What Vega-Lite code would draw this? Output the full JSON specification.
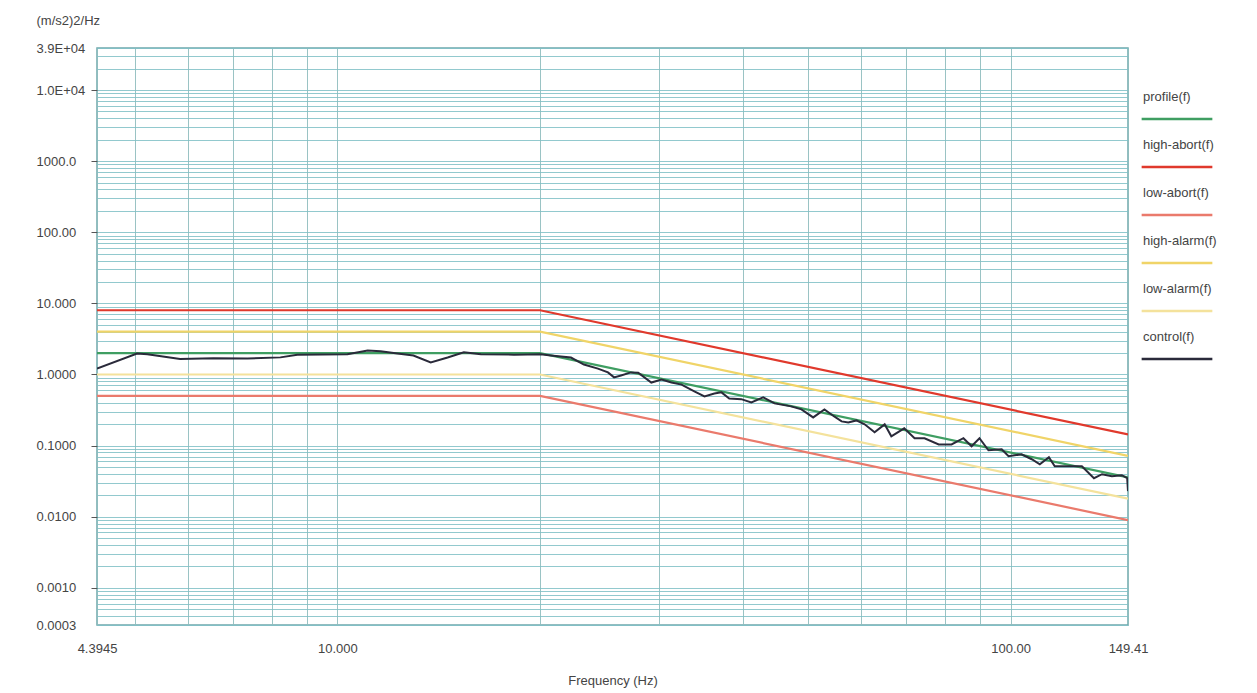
{
  "$schema": "https://vega.github.io/schema/vega-lite/v6.json",
  "width": 1031,
  "height": 577,
  "autosize": {"type": "none"},
  "padding": {"left": 97, "top": 48, "right": 129, "bottom": 68},
  "background": "#ffffff",
  "config": {
    "view": {"stroke": "#6fa8ac", "strokeWidth": 1.5},
    "font": "Liberation Sans"
  },
  "datasets": {
    "rows": [
      {"series": "profile(f)", "f": 4.3945, "v": 2},
      {"series": "profile(f)", "f": 20, "v": 2},
      {"series": "profile(f)", "f": 149.41, "v": 0.0358},
      {"series": "high-abort(f)", "f": 4.3945, "v": 8},
      {"series": "high-abort(f)", "f": 20, "v": 8},
      {"series": "high-abort(f)", "f": 149.41, "v": 0.1433},
      {"series": "low-abort(f)", "f": 4.3945, "v": 0.5},
      {"series": "low-abort(f)", "f": 20, "v": 0.5},
      {"series": "low-abort(f)", "f": 149.41, "v": 0.00896},
      {"series": "high-alarm(f)", "f": 4.3945, "v": 4},
      {"series": "high-alarm(f)", "f": 20, "v": 4},
      {"series": "high-alarm(f)", "f": 149.41, "v": 0.0717},
      {"series": "low-alarm(f)", "f": 4.3945, "v": 1},
      {"series": "low-alarm(f)", "f": 20, "v": 1},
      {"series": "low-alarm(f)", "f": 149.41, "v": 0.0179},
      {"series": "control(f)", "f": 4.3945, "v": 1.21},
      {"series": "control(f)", "f": 5.04, "v": 1.97},
      {"series": "control(f)", "f": 5.22, "v": 1.93},
      {"series": "control(f)", "f": 5.84, "v": 1.65},
      {"series": "control(f)", "f": 6.54, "v": 1.69},
      {"series": "control(f)", "f": 7.35, "v": 1.68},
      {"series": "control(f)", "f": 8.23, "v": 1.74},
      {"series": "control(f)", "f": 8.72, "v": 1.9},
      {"series": "control(f)", "f": 10.35, "v": 1.92},
      {"series": "control(f)", "f": 11.09, "v": 2.18},
      {"series": "control(f)", "f": 11.59, "v": 2.12},
      {"series": "control(f)", "f": 12.28, "v": 1.97},
      {"series": "control(f)", "f": 12.97, "v": 1.85},
      {"series": "control(f)", "f": 13.76, "v": 1.48},
      {"series": "control(f)", "f": 14.58, "v": 1.73},
      {"series": "control(f)", "f": 15.41, "v": 2.05},
      {"series": "control(f)", "f": 16.34, "v": 1.92},
      {"series": "control(f)", "f": 18.29, "v": 1.9},
      {"series": "control(f)", "f": 20.05, "v": 1.92},
      {"series": "control(f)", "f": 20.75, "v": 1.85},
      {"series": "control(f)", "f": 22.23, "v": 1.73},
      {"series": "control(f)", "f": 23.24, "v": 1.38},
      {"series": "control(f)", "f": 24.38, "v": 1.21},
      {"series": "control(f)", "f": 25.23, "v": 1.07},
      {"series": "control(f)", "f": 25.76, "v": 0.91},
      {"series": "control(f)", "f": 26.38, "v": 0.97},
      {"series": "control(f)", "f": 27.3, "v": 1.07},
      {"series": "control(f)", "f": 27.98, "v": 1.06},
      {"series": "control(f)", "f": 29.26, "v": 0.77},
      {"series": "control(f)", "f": 30.3, "v": 0.85},
      {"series": "control(f)", "f": 31.35, "v": 0.77},
      {"series": "control(f)", "f": 32.45, "v": 0.72},
      {"series": "control(f)", "f": 33.9, "v": 0.58},
      {"series": "control(f)", "f": 35.1, "v": 0.49},
      {"series": "control(f)", "f": 36.3, "v": 0.54},
      {"series": "control(f)", "f": 37.2, "v": 0.56},
      {"series": "control(f)", "f": 38.2, "v": 0.46},
      {"series": "control(f)", "f": 39.8, "v": 0.45},
      {"series": "control(f)", "f": 41.2, "v": 0.405},
      {"series": "control(f)", "f": 42.9, "v": 0.476},
      {"series": "control(f)", "f": 44.6, "v": 0.392},
      {"series": "control(f)", "f": 47.2, "v": 0.356},
      {"series": "control(f)", "f": 48.9, "v": 0.323},
      {"series": "control(f)", "f": 50.9, "v": 0.249},
      {"series": "control(f)", "f": 52.9, "v": 0.323},
      {"series": "control(f)", "f": 54.7, "v": 0.257},
      {"series": "control(f)", "f": 56.1, "v": 0.219},
      {"series": "control(f)", "f": 57.4, "v": 0.212},
      {"series": "control(f)", "f": 59.0, "v": 0.226},
      {"series": "control(f)", "f": 60.7, "v": 0.199},
      {"series": "control(f)", "f": 62.8, "v": 0.154},
      {"series": "control(f)", "f": 65.0, "v": 0.199},
      {"series": "control(f)", "f": 66.5, "v": 0.135},
      {"series": "control(f)", "f": 69.5, "v": 0.175},
      {"series": "control(f)", "f": 72.0, "v": 0.127},
      {"series": "control(f)", "f": 74.5, "v": 0.127},
      {"series": "control(f)", "f": 78.2, "v": 0.104},
      {"series": "control(f)", "f": 81.7, "v": 0.104},
      {"series": "control(f)", "f": 85.1, "v": 0.127},
      {"series": "control(f)", "f": 87.5, "v": 0.0977},
      {"series": "control(f)", "f": 89.9, "v": 0.127},
      {"series": "control(f)", "f": 92.7, "v": 0.0859},
      {"series": "control(f)", "f": 97.0, "v": 0.0888},
      {"series": "control(f)", "f": 99.3, "v": 0.0708},
      {"series": "control(f)", "f": 103.8, "v": 0.0755},
      {"series": "control(f)", "f": 107.5, "v": 0.0643},
      {"series": "control(f)", "f": 110.5, "v": 0.0547},
      {"series": "control(f)", "f": 114.0, "v": 0.0686},
      {"series": "control(f)", "f": 116.3, "v": 0.0513},
      {"series": "control(f)", "f": 122.0, "v": 0.0513},
      {"series": "control(f)", "f": 127.6, "v": 0.0513},
      {"series": "control(f)", "f": 133.0, "v": 0.0348},
      {"series": "control(f)", "f": 136.7, "v": 0.0396},
      {"series": "control(f)", "f": 141.4, "v": 0.0371},
      {"series": "control(f)", "f": 146.3, "v": 0.0383},
      {"series": "control(f)", "f": 149.0, "v": 0.0348},
      {"series": "control(f)", "f": 149.41, "v": 0.0229}
    ]
  },
  "data": {"name": "rows"},
  "encoding": {
    "x": {
      "field": "f", "type": "quantitative",
      "scale": {"type": "log", "domain": [4.3945, 149.41], "nice": false, "zero": false},
      "axis": {
        "title": "Frequency (Hz)",
        "values": [4.3945, 5, 6, 7, 8, 9, 10, 20, 30, 40, 50, 60, 70, 80, 90, 100, 149.41],
        "labelExpr": "datum.value == 4.3945 ? '4.3945' : datum.value == 10 ? '10.000' : datum.value == 100 ? '100.00' : datum.value == 149.41 ? '149.41' : ''",
        "labelOverlap": false,
        "labelBound": false,
        "labelFlush": false,
        "ticks": false,
        "domain": false,
        "labelPadding": 17,
        "labelFontSize": 13,
        "labelColor": "#444444",
        "labelFont": "Liberation Sans",
        "titleFont": "Liberation Sans",
        "titleFontSize": 13,
        "titleFontWeight": "normal",
        "titleColor": "#444444",
        "titlePadding": 19,
        "gridColor": "#8fbcbe",
        "gridWidth": 1,
        "gridOpacity": 0.9
      }
    },
    "y": {
      "field": "v", "type": "quantitative",
      "scale": {"type": "log", "domain": [0.0003, 39000], "nice": false, "zero": false},
      "axis": {
        "title": "(m/s2)2/Hz",
        "titleAngle": 0,
        "titleAlign": "left",
        "titleBaseline": "middle",
        "titleX": -61,
        "titleY": -28,
        "titleFont": "Liberation Sans",
        "titleFontSize": 13,
        "titleFontWeight": "normal",
        "titleColor": "#444444",
        "values": [0.0003, 0.0004, 0.0005, 0.0006, 0.0007, 0.0008, 0.0009,
                   0.001, 0.002, 0.003, 0.004, 0.005, 0.006, 0.007, 0.008, 0.009,
                   0.01, 0.02, 0.03, 0.04, 0.05, 0.06, 0.07, 0.08, 0.09,
                   0.1, 0.2, 0.3, 0.4, 0.5, 0.6, 0.7, 0.8, 0.9,
                   1, 2, 3, 4, 5, 6, 7, 8, 9,
                   10, 20, 30, 40, 50, 60, 70, 80, 90,
                   100, 200, 300, 400, 500, 600, 700, 800, 900,
                   1000, 2000, 3000, 4000, 5000, 6000, 7000, 8000, 9000,
                   10000, 20000, 30000, 39000],
        "labelExpr": "datum.value == 39000 ? '3.9E+04' : datum.value == 10000 ? '1.0E+04' : datum.value == 1000 ? '1000.0' : datum.value == 100 ? '100.00' : datum.value == 10 ? '10.000' : datum.value == 1 ? '1.0000' : datum.value == 0.1 ? '0.1000' : datum.value == 0.01 ? '0.0100' : datum.value == 0.001 ? '0.0010' : datum.value == 0.0003 ? '0.0003' : ''",
        "labelOverlap": false,
        "labelBound": false,
        "labelFlush": false,
        "labelAlign": "left",
        "labelPadding": 55,
        "labelFontSize": 13,
        "labelColor": "#444444",
        "labelFont": "Liberation Sans",
        "tickSize": 6,
        "tickColor": "#555555",
        "tickOpacity": {"condition": {"test": "indexof([0.001, 0.01, 0.1, 1, 10, 100, 1000, 10000], datum.value) >= 0", "value": 1}, "value": 0},
        "domain": false,
        "gridColor": "#7fc0c6",
        "gridWidth": 1,
        "gridOpacity": 0.85
      }
    },
    "color": {
      "field": "series", "type": "nominal",
      "scale": {
        "domain": ["profile(f)", "high-abort(f)", "low-abort(f)", "high-alarm(f)", "low-alarm(f)", "control(f)"],
        "range": ["#3f9e62", "#e0392c", "#ea7a6c", "#f0d468", "#f4e29c", "#2a2a3a"]
      },
      "legend": {
        "orient": "none",
        "legendX": 1043,
        "legendY": 34,
        "title": null,
        "symbolType": "stroke",
        "symbolSize": 5000,
        "symbolStrokeWidth": 2.5,
        "labelOffset": -71,
        "labelFontSize": 13,
        "labelFont": "Liberation Sans",
        "labelColor": "#444444",
        "rowPadding": 6,
        "encode": {"labels": {"update": {"dy": {"value": -22}}}}
      }
    }
  },
  "layer": [
    {
      "transform": [{"filter": "datum.series != 'control(f)'"}],
      "mark": {"type": "line", "clip": true, "strokeWidth": 2.2},
      "encoding": {"detail": {"field": "series"}}
    },
    {
      "transform": [{"filter": "datum.series == 'control(f)'"}],
      "mark": {"type": "line", "clip": true, "strokeWidth": 2, "color": "#111111"}
    }
  ]
}
